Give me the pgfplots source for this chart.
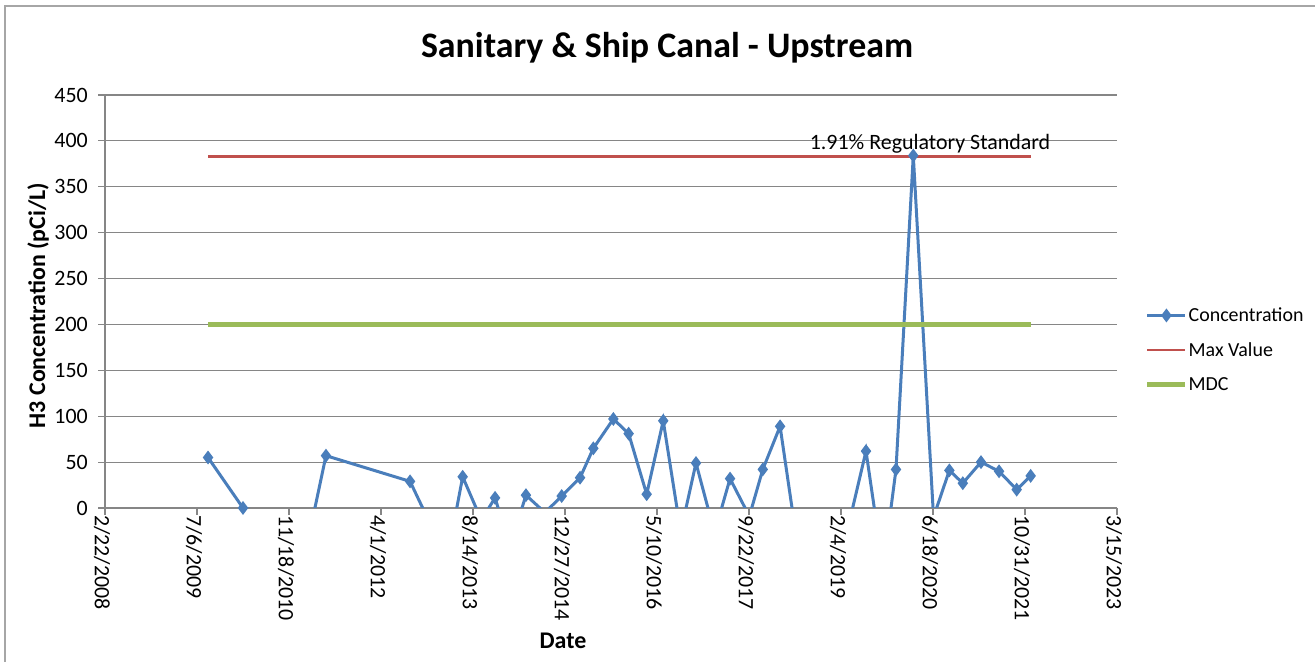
\documentclass[border=0pt]{standalone}
\usepackage{fontspec}
\setmainfont{Carlito}
\usepackage{pgfplots}
\usepackage{pgfplotstable}
\pgfplotsset{compat=1.18}
\definecolor{cblue}{HTML}{4A7EBB}
\definecolor{cred}{HTML}{C0504D}
\definecolor{cgreen}{HTML}{9BBB59}
\definecolor{cgrid}{HTML}{868686}
\definecolor{cborder}{HTML}{A6A6A6}

\pgfplotstableread{
date value
40060 55
40250 0
40625 -15
40701 57
41158 29
41359 -56
41444 34
41545 -13
41620 11
41701 -42
41788 14
41891 -5
41982 13
42082 33
42154 65
42263 97
42346 81
42444 15
42534 95
42629 -26
42712 49
42813 -27
42897 32
43002 -9
43075 42
43169 89
43261 -37
43527 -31
43636 62
43729 -66
43799 42
43893 384
44003 -10
44089 41
44162 27
44261 50
44359 40
44455 20
44531 35
}\conc

\begin{document}
\begin{tikzpicture}[x=1bp,y=1bp]
\path[use as bounding box] (0,0) rectangle (1315,662);
\draw[cborder, line width=2bp] (5,0) -- (5,656) -- (1315,656);
\node[font=\fontsize{36}{42}\selectfont\bfseries, anchor=base] at (667,604) {Sanitary \& Ship Canal - Upstream};
\begin{axis}[
  at={(105bp,154bp)}, anchor=south west,
  scale only axis, width=1012bp, height=413bp,
  xmin=39500, xmax=45000, ymin=0, ymax=450,
  scaled x ticks=false, scaled y ticks=false,
  xtick={39500,40000,...,45000},
  xticklabels={2/22/2008,7/6/2009,11/18/2010,4/1/2012,8/14/2013,12/27/2014,5/10/2016,9/22/2017,2/4/2019,6/18/2020,10/31/2021,3/15/2023},
  ytick={0,50,...,450},
  ymajorgrids, grid style={cgrid, line width=1.2bp},
  axis x line*=bottom, axis y line*=left,
  axis line style={cgrid, line width=1.2bp, -},
  tick style={cgrid, line width=1.2bp},
  tick align=outside, major tick length=7bp,
  ticklabel style={font=\fontsize{22}{26}\selectfont, text=black},
  /pgf/number format/assume math mode=true,
  x tick label style={rotate=-90, anchor=west, inner sep=0pt, yshift=-3bp},
  y tick label style={anchor=east, inner sep=0pt, xshift=-10bp},
  xlabel={Date},
  xlabel style={font=\fontsize{24}{28}\selectfont\bfseries, at={(axis description cs:0.4526,-0.322)}, anchor=center},
  ylabel={H3 Concentration (pCi/L)},
  ylabel style={font=\fontsize{24}{28}\selectfont\bfseries, at={(axis description cs:-0.0662,0.49)}, anchor=center},
  legend style={at={(axis description cs:1.0277,0.383)}, anchor=west, draw=none, fill=none,
    font=\fontsize{20}{24}\selectfont, row sep=17.5bp, inner sep=0pt, nodes={inner sep=1bp},
    /tikz/every even column/.append style={column sep=4bp}},
  legend cell align=left,
  legend image code/.code={\draw[mark repeat=2,mark phase=2,#1] plot coordinates {(0bp,0bp) (19bp,0bp) (38bp,0bp)};},
]
\addplot[cblue, line width=3bp, mark=diamond*, mark size=4.5bp, mark options={solid, fill=cblue}] table[x=date, y=value] {\conc};
\addlegendentry{Concentration}
\addplot[cred, line width=2.5bp] coordinates {(40060,383) (44531,383)};
\addlegendentry{Max Value}
\addplot[cgreen, line width=4.5bp] coordinates {(40060,200) (44531,200)};
\addlegendentry{MDC}
\node[font=\fontsize{22}{26}\selectfont] at (axis cs:43984,397) {1.91\% Regulatory Standard};
\end{axis}
\end{tikzpicture}
\end{document}
